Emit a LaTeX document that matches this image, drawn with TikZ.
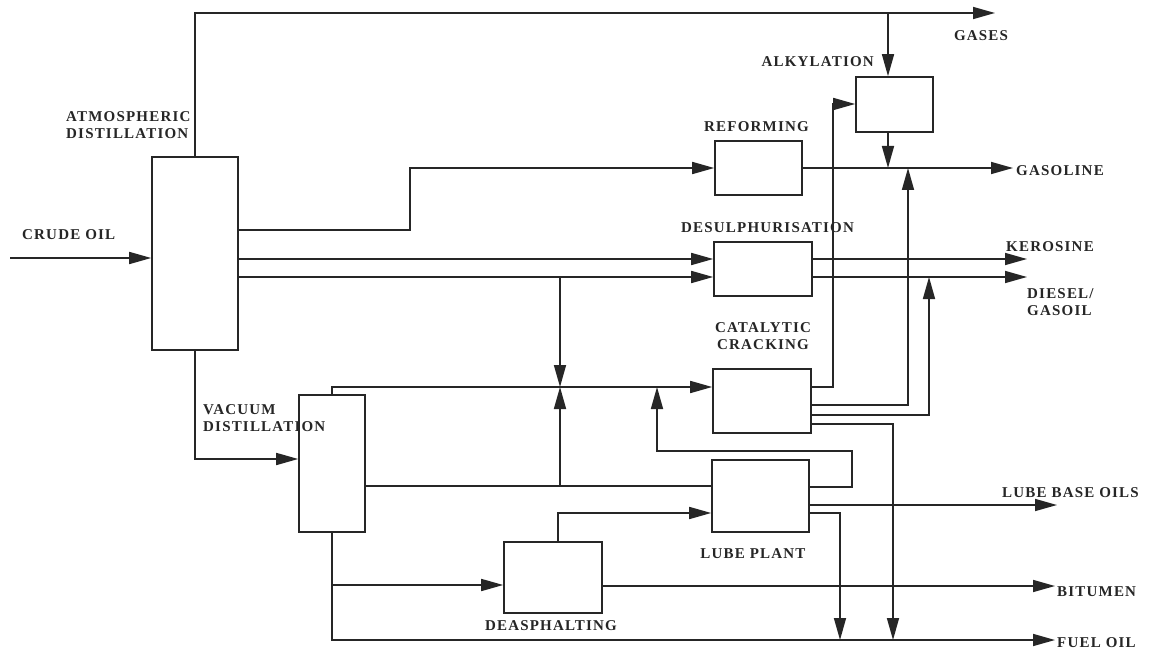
\documentclass[tikz,border=0pt]{standalone}
\usepackage{fontspec}
\setmainfont{Liberation Serif}[LetterSpace=8]
\usetikzlibrary{arrows.meta}
\definecolor{ink}{HTML}{262626}
\tikzset{
  box/.style={draw=ink, line width=1.6pt, rectangle, inner sep=0pt},
  flow/.style={draw=ink, line width=1.6pt},
  arr/.style={flow, -{Triangle[length=22pt,width=12pt]}},
  lbl/.style={text=ink, font=\fontsize{15}{17}\selectfont\bfseries, inner sep=0pt, align=left},
}
\begin{document}
\begin{tikzpicture}[x=1pt,y=-1pt]
\useasboundingbox[fill=white] (0,0) rectangle (1160,658);

% process boxes
\node[box, minimum width=86pt, minimum height=193pt] (atm)  at (195,253.5) {};
\node[box, minimum width=77pt, minimum height=55pt]  (alk)  at (894.5,104.5) {};
\node[box, minimum width=87pt, minimum height=54pt]  (ref)  at (758.5,168) {};
\node[box, minimum width=98pt, minimum height=54pt]  (des)  at (763,269) {};
\node[box, minimum width=98pt, minimum height=64pt]  (cat)  at (762,401) {};
\node[box, minimum width=66pt, minimum height=137pt] (vac)  at (332,463.5) {};
\node[box, minimum width=97pt, minimum height=72pt]  (lube) at (760.5,496) {};
\node[box, minimum width=98pt, minimum height=71pt]  (dea)  at (553,577.5) {};

% free ends
\coordinate (crude)  at (10,258);
\coordinate (gasend) at (995,13);
\coordinate (gasol)  at (1013,168);
\coordinate (kero)   at (1027,259);
\coordinate (dies)   at (1027,277);
\coordinate (lbo)    at (1057,505);
\coordinate (bit)    at (1055,586);
\coordinate (fuel)   at (1055,640);
\coordinate (ax)     at (888,0);

% labels
\node[lbl, anchor=center] (lgases) at (981,36) {GASES};
\node[lbl, anchor=east] (lalk) at (874,62) {ALKYLATION};
\node[lbl, anchor=west] (lref) at (704,127) {REFORMING};
\node[lbl, anchor=west] (ldes) at (681,228) {DESULPHURISATION};
\node[lbl, anchor=west] (lgasol) at (1016,171) {GASOLINE};
\node[lbl, anchor=west] (lkero) at (1006,247) {KEROSINE};
\node[lbl, anchor=west] (ldies) at (1027,302) {DIESEL/\\GASOIL};
\node[lbl, anchor=center, align=center] (lcat) at (763,336) {CATALYTIC\\CRACKING};
\node[lbl, anchor=west] (lcrude) at (22,235) {CRUDE OIL};
\node[lbl, anchor=west] (latm) at (66,125) {ATMOSPHERIC\\DISTILLATION};
\node[lbl, anchor=west] (lvac) at (203,418) {VACUUM\\DISTILLATION};
\node[lbl, anchor=west] (llbo) at (1002,493) {LUBE BASE OILS};
\node[lbl, anchor=center] (llube) at (753,554) {LUBE PLANT};
\node[lbl, anchor=center] (ldea) at (551,626) {DEASPHALTING};
\node[lbl, anchor=west] (lbit) at (1057,592) {BITUMEN};
\node[lbl, anchor=west] (lfuel) at (1057,643) {FUEL OIL};

% crude feed
\draw[arr] (crude) -- (atm.west |- crude);
% gases
\draw[arr] (atm.north) |- (gasend);
\draw[arr] (ax |- gasend) -- (ax |- alk.north);
% alkylation to gasoline
\draw[arr] (ax |- alk.south) -- (ax |- gasol);
% atmospheric side draws
\draw[arr] (atm.east |- 0,230) -- (410,230) -- (410,168) -- (ref.west);
\draw[arr] (atm.east |- kero) -- (des.west |- kero);
\draw[arr] (atm.east |- dies) -- (des.west |- dies);
\draw[arr] (560,277) -- (560,387);
% products
\draw[arr] (ref.east) -- (gasol);
\draw[arr] (des.east |- kero) -- (kero);
\draw[arr] (des.east |- dies) -- (dies);
% atmospheric residue to vacuum
\draw[arr] (atm.south) |- (vac.west |- 0,459);
% vacuum outputs
\draw[arr] (vac.north) |- (cat.west |- 0,387);
\draw[flow] (vac.east |- 0,486) -- (lube.west |- 0,486);
\draw[arr] (560,486) -- (560,387);
\draw[arr] (vac.south) |- (fuel);
\draw[arr] (332,585) -- (dea.west |- 0,585);
% lube plant
\draw[arr] (lube.east |- 0,487) -- (852,487) -- (852,451) -- (657,451) -- (657,387);
\draw[arr] (lube.east |- lbo) -- (lbo);
\draw[arr] (lube.east |- 0,513) -| (840,640);
% catalytic cracking outputs
\draw[arr] (cat.east |- 0,387) -| (833,104) -- (alk.west |- 0,104);
\draw[arr] (cat.east |- 0,405) -| (908,168);
\draw[arr] (cat.east |- 0,415) -| (929,277);
\draw[arr] (cat.east |- 0,424) -| (893,640);
% deasphalting
\draw[arr] (dea.north -| 558,0) |- (lube.west |- 0,513);
\draw[arr] (dea.east |- bit) -- (bit);
\end{tikzpicture}
\end{document}
